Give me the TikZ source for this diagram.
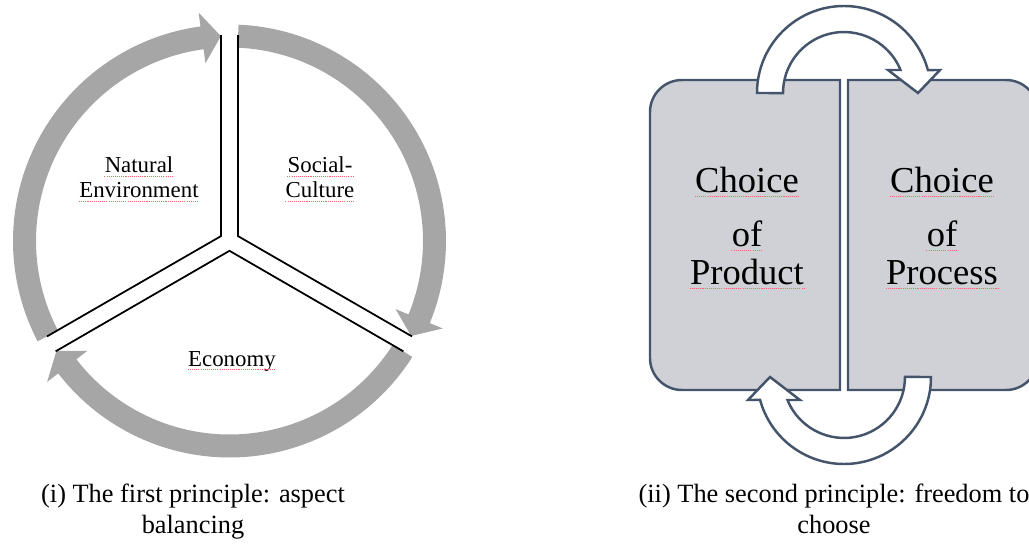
\documentclass[tikz,border=0pt]{standalone}
\usepackage{fontspec}
\setmainfont{Liberation Serif}

\definecolor{ringgray}{HTML}{A6A6A6}
\definecolor{boxfill}{HTML}{D0D1D6}
\definecolor{boxline}{HTML}{44546A}

\begin{document}
\begin{tikzpicture}[x=0.02cm, y=0.02cm]
\tikzstyle{ringtext}=[inner sep=0pt, anchor=base, font=\fontsize{13}{15}\selectfont]
\tikzstyle{bigtext}=[inner sep=0pt, anchor=base, font=\fontsize{20.8}{22}\selectfont]
\tikzstyle{captext}=[inner sep=0pt, anchor=base, font=\fontsize{15}{17}\selectfont]
\tikzstyle{sepline}=[black, line width=1pt]
\tikzstyle{spellmark}=[red!60, line width=0.5pt, dash pattern=on 0.6pt off 0.6pt]
\tikzstyle{choicebox}=[draw=boxline, fill=boxfill, line width=1.4pt]
\tikzstyle{turnarrow}=[draw=boxline, fill=white, line width=1.4pt]
\useasboundingbox (0,0) rectangle (1029,552);
\clip (0,0) rectangle (1029,552);

% (i) aspect balancing
\coordinate (C) at (229.5,311);
\begin{scope}[shift={(C)}]
\foreach \s in {207.6,87.6,-32.4}
  \fill[ringgray] (\s:216.5) arc[start angle=\s, end angle=\s-109.9, radius=216.5]
    -- (\s-109.9:230.5) -- (\s-115.2:205) -- (\s-109.9:179.5) -- (\s-109.9:193.5)
    arc[start angle=\s-109.9, end angle=\s, radius=193.5] -- cycle;
\foreach \a in {90,210,330}
  \draw[sepline] (\a+2.4:206) -- (\a+60:9.8) -- (\a+117.6:206);
\end{scope}
\node[ringtext] (nat) at (139,379) {Natural};
\node[ringtext] (env) at (139,354) {Environment};
\node[ringtext] (soc) at (320,379) {Social-};
\node[ringtext] (cul) at (320,354) {Culture};
\node[ringtext] (eco) at (232,186) {Economy};
\foreach \n in {nat,env,soc,cul,eco}
  \draw[spellmark] ([yshift=-1.8pt]\n.base west) -- ([yshift=-1.8pt]\n.base east);
\node[captext] (capA) at (193,50) {(i) The first principle: aspect};
\node[captext] (capB) at (193,19) {balancing};

% (ii) freedom to choose
\draw[choicebox] (840,162) -- (682,162) arc[start angle=270, end angle=180, radius=32]
  -- (650,440) arc[start angle=180, end angle=90, radius=32] -- (840,472) -- cycle;
\draw[choicebox] (848,162) -- (1006,162) arc[start angle=-90, end angle=0, radius=32]
  -- (1038,440) arc[start angle=0, end angle=90, radius=32] -- (848,472) -- cycle;
\foreach \r in {0,180}
  \draw[turnarrow, rotate around={\r:(844,317)}] (757,459) arc[start angle=180, end angle=15.3, radius=87]
    -- (940,482) -- (918,459) -- (888,482) -- (900.5,482)
    arc[start angle=22.2, end angle=180, radius=61] -- cycle;
\node[bigtext] (prodA) at (747,359) {Choice};
\node[bigtext] (prodB) at (747,305) {of};
\node[bigtext] (prodC) at (747,267) {Product};
\node[bigtext] (procA) at (942,359) {Choice};
\node[bigtext] (procB) at (942,305) {of};
\node[bigtext] (procC) at (942,267) {Process};
\foreach \n in {prodA,prodB,prodC,procA,procB,procC}
  \draw[spellmark] ([yshift=-2.2pt]\n.base west) -- ([yshift=-2.2pt]\n.base east);
\node[captext] (capC) at (834,50) {(ii) The second principle: freedom to};
\node[captext] (capD) at (834,19) {choose};
\end{tikzpicture}
\end{document}
